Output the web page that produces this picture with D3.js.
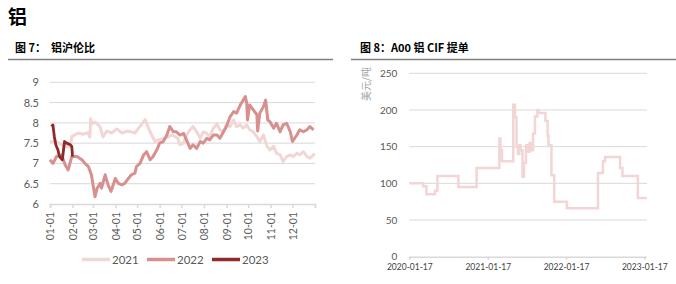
<!DOCTYPE html>
<html>
<head>
<meta charset="utf-8">
<script src="https://cdn.jsdelivr.net/npm/d3@7"></script>
<style>
  body { margin: 0; background: #fff; }
  svg { display: block; font-family: "Noto Sans CJK SC", "Noto Sans", sans-serif; }
</style>
</head>
<body>
<div id="chart"></div>
<script>
// left chart: 铝沪伦比, by day of year
var dates2021 = ["01-01","01-04","01-08","01-22","01-29","01-31","02-09","02-16","02-22","02-25","02-26","02-28","03-04","03-08","03-11","03-15","03-20","03-27","04-03","04-10","04-18","04-28","05-08","05-12","05-16","05-21","05-26","05-30","06-08","06-18","06-26","06-29","07-04","07-08","07-13","07-17","07-22","07-27","07-31","08-05","08-09","08-14","08-19","08-23","08-28","09-01","09-06","09-11","09-15","09-20","09-24","09-29","10-03","10-08","10-13","10-17","10-22","10-27","10-31","11-05","11-09","11-14","11-18","11-23","11-28","12-02","12-07","12-11","12-16","12-21","12-25","12-30","12-31"];
var vals2021 = [7.54,7.53,7.55,7.41,7.42,7.66,7.75,7.72,7.76,7.65,8.1,7.98,8.02,7.96,7.9,7.65,7.8,7.75,7.85,7.75,7.8,7.75,7.98,8.08,7.9,7.7,7.53,7.58,7.62,7.7,7.62,7.46,7.5,7.7,7.83,7.91,7.78,7.62,7.78,7.74,7.66,7.87,7.97,7.83,7.78,7.95,7.91,8.07,7.91,7.95,7.87,7.95,7.83,7.78,7.66,7.54,7.7,7.42,7.33,7.42,7.25,7.21,7.05,7.17,7.21,7.17,7.25,7.21,7.29,7.17,7.13,7.21,7.25];

var dates2022 = ["01-01","01-05","01-10","01-17","01-22","01-26","01-31","02-07","02-14","02-18","02-23","02-27","03-04","03-07","03-11","03-13","03-18","03-22","03-26","04-01","04-05","04-10","04-14","04-19","04-23","04-28","04-30","05-05","05-10","05-14","05-19","05-23","05-28","06-01","06-06","06-11","06-15","06-20","06-24","06-29","07-04","07-08","07-13","07-17","07-22","07-27","07-31","08-05","08-09","08-14","08-19","08-23","08-28","09-01","09-06","09-11","09-15","09-20","09-24","09-27","09-29","09-30","10-03","10-08","10-13","10-14","10-17","10-22","10-25","10-28","10-31","11-05","11-09","11-14","11-18","11-23","11-28","12-01","12-07","12-11","12-16","12-21","12-25","12-30"];
var vals2022 = [7.09,7.0,7.17,7.21,6.96,6.84,7.17,7.17,7.09,7.0,6.92,6.72,6.18,6.39,6.51,6.39,6.72,6.47,6.31,6.63,6.51,6.47,6.51,6.63,6.72,6.76,6.92,7.0,7.21,7.29,7.09,7.17,7.33,7.5,7.54,7.7,7.91,7.78,7.78,7.7,7.74,7.58,7.37,7.46,7.37,7.54,7.5,7.62,7.58,7.7,7.7,7.62,7.78,7.91,8.15,8.28,8.24,8.44,8.56,8.65,8.48,8.07,8.44,8.32,8.2,7.8,8.24,8.4,8.56,8.07,8.03,7.87,7.99,7.78,7.95,7.99,7.78,7.54,7.7,7.83,7.78,7.83,7.91,7.83];

var dates2023 = ["01-03","01-05","01-07","01-09","01-12","01-14","01-16","01-18","01-21","01-24","01-29","01-31","02-01"];
var vals2023 = [7.91,7.95,7.66,7.46,7.33,7.17,7.13,7.09,7.54,7.5,7.46,7.42,7.17];

var yearNames = ["2021", "2022", "2023"];
var ratioTicks = [6, 6.5, 7, 7.5, 8, 8.5, 9];

// right chart: A00 铝 CIF 提单 (美元/吨)
var cifDates = ["2020-01-17","2020-03-22","2020-04-06","2020-05-16","2020-05-27","2020-09-02","2020-11-26","2021-03-12","2021-03-17","2021-03-24","2021-05-16","2021-05-24","2021-05-31","2021-06-07","2021-06-13","2021-06-19","2021-06-28","2021-07-05","2021-07-14","2021-07-21","2021-07-31","2021-08-07","2021-08-16","2021-08-25","2021-09-05","2021-09-11","2021-10-13","2021-10-23","2021-10-27","2021-11-10","2021-11-23","2022-01-21","2022-06-15","2022-07-08","2022-07-18","2022-09-26","2022-10-07","2022-12-18","2023-01-29"];
var cifVals = [100,96,85,90,110,95,121,161,145,130,207,190,150,140,152,145,109,128,152,143,155,145,168,191,200,196,185,165,152,111,75,66,114,130,136,121,110,80,80];
var cifTicks = [0, 50, 100, 150, 200, 250];
var cifDateTicks = ["2020-01-17","2021-01-17","2022-01-17","2023-01-17"];

var colors = ["#f2d6d5", "#d8908e", "#8e2a2a"];
var gridColor = "#d9d9d9";
var textColor = "#595959";

var svg = d3.select("#chart").append("svg")
    .attr("width", 676)
    .attr("height", 284);

// headings
svg.append("text")
    .attr("x", 8).attr("y", 24)
    .attr("font-size", 19).attr("font-weight", "bold")
    .attr("fill", "#000")
    .text("铝");

function drawTitle(x, lineX1, lineX2, label) {
    svg.append("text")
        .attr("x", x).attr("y", 52)
        .attr("font-size", 11).attr("font-weight", "bold")
        .attr("fill", "#000")
        .attr("xml:space", "preserve")
        .text(label);
    svg.append("line")
        .attr("x1", lineX1).attr("x2", lineX2)
        .attr("y1", 59.5).attr("y2", 59.5)
        .attr("stroke", "#808080")
        .attr("stroke-width", 1.5);
}
drawTitle(15, 8, 333, "图 7：  铝沪伦比");
drawTitle(360, 351, 676, "图 8：A00 铝 CIF 提单");

function drawRatio() {
    var parse = d3.timeParse("%m-%d");
    var x = d3.scaleTime()
        .domain([parse("01-01"), new Date(1901, 0, 1)])
        .range([50, 315]);
    var y = d3.scaleLinear()
        .domain([6, 9])
        .range([204, 82.3]);

    var g = svg.append("g");

    g.append("g")
        .selectAll("line")
        .data(ratioTicks.slice(1))
        .enter()
        .append("line")
        .attr("x1", 50).attr("x2", 315)
        .attr("y1", d => y(d)).attr("y2", d => y(d))
        .attr("stroke", gridColor)
        .attr("stroke-width", 1);

    var yAxis = g.append("g")
        .attr("transform", "translate(50,0)")
        .call(d3.axisLeft(y).tickValues(ratioTicks).tickSize(0).tickPadding(11).tickFormat(d3.format("~g")));
    yAxis.select(".domain").remove();
    yAxis.selectAll("text")
        .attr("font-size", 11)
        .attr("fill", textColor)
        .attr("font-family", "Lato, 'Noto Sans', sans-serif");

    var xAxis = g.append("g")
        .attr("transform", "translate(0,204)")
        .call(d3.axisBottom(x).ticks(d3.timeMonth.every(1)).tickSize(4).tickFormat(d3.timeFormat("%m-%d")));
    xAxis.select(".domain").attr("stroke", gridColor).attr("stroke-width", 1.5);
    xAxis.selectAll(".tick line").attr("stroke", gridColor).attr("stroke-width", 1.5);
    xAxis.selectAll(".tick")
        .filter(d => d.getFullYear() > 1900)
        .select("text").remove();
    xAxis.selectAll("text")
        .attr("font-size", 10.5)
        .attr("fill", textColor)
        .attr("font-family", "Lato, 'Noto Sans', sans-serif")
        .attr("text-anchor", "end")
        .attr("transform", "rotate(-90)")
        .attr("x", -8)
        .attr("y", 0)
        .attr("dy", "0.35em");

    var line = d3.line()
        .x(d => x(parse(d[0])))
        .y(d => y(d[1]));

    var series = [
        d3.zip(dates2021, vals2021),
        d3.zip(dates2022, vals2022),
        d3.zip(dates2023, vals2023)
    ];
    series.forEach(function (s, i) {
        g.append("path")
            .datum(s)
            .attr("d", line)
            .attr("fill", "none")
            .attr("stroke", colors[i])
            .attr("stroke-width", i == 2 ? 2.8 : 3)
            .attr("stroke-linejoin", "round");
    });

    // legend
    var legend = g.append("g")
        .selectAll("g")
        .data(yearNames)
        .enter()
        .append("g")
        .attr("transform", (d, i) => "translate(" + (82 + i * 65) + ",259.5)");
    legend.append("line")
        .attr("x1", 0).attr("x2", 28)
        .attr("stroke", (d, i) => colors[i])
        .attr("stroke-width", 3.5);
    legend.append("text")
        .attr("x", 30).attr("y", 0)
        .attr("dy", "0.36em")
        .attr("font-size", 11.5)
        .attr("fill", textColor)
        .attr("font-family", "Lato, 'Noto Sans', sans-serif")
        .text(d => d);
}

function drawCif() {
    var parse = d3.timeParse("%Y-%m-%d");
    var x = d3.scaleTime()
        .domain([parse("2020-01-17"), parse("2023-01-17")])
        .range([409.3, 644.3]);
    var y = d3.scaleLinear()
        .domain([0, 250])
        .range([256.7, 73.3]);
    var xEnd = 647;

    var g = svg.append("g");

    g.append("g")
        .selectAll("line")
        .data(cifTicks.slice(1))
        .enter()
        .append("line")
        .attr("x1", 409.3).attr("x2", xEnd)
        .attr("y1", d => y(d)).attr("y2", d => y(d))
        .attr("stroke", gridColor)
        .attr("stroke-width", 1);

    var yAxis = g.append("g")
        .attr("transform", "translate(409.3,0)")
        .call(d3.axisLeft(y).tickValues(cifTicks).tickSize(0).tickPadding(12));
    yAxis.select(".domain").remove();
    yAxis.selectAll("text")
        .attr("font-size", 10)
        .attr("fill", textColor)
        .attr("font-family", "Lato, 'Noto Sans', sans-serif");

    var xAxis = g.append("g")
        .attr("transform", "translate(0,256.7)")
        .call(d3.axisBottom(x).tickValues(cifDateTicks.map(parse)).tickSize(3).tickPadding(4).tickFormat(d3.timeFormat("%Y-%m-%d")));
    xAxis.select(".domain")
        .attr("d", "M409.3,0.5H" + xEnd)
        .attr("stroke", gridColor).attr("stroke-width", 1.5);
    xAxis.selectAll(".tick line").attr("stroke", gridColor).attr("stroke-width", 1.5);
    xAxis.selectAll("text")
        .attr("font-size", 8.5)
        .attr("fill", "#404040")
        .attr("font-family", "Lato, 'Noto Sans', sans-serif");

    var line = d3.line()
        .curve(d3.curveStepAfter)
        .x(d => x(parse(d[0])))
        .y(d => y(d[1]));

    g.append("path")
        .datum(d3.zip(cifDates, cifVals))
        .attr("d", line)
        .attr("fill", "none")
        .attr("stroke", colors[0])
        .attr("stroke-width", 2.5);

    g.append("text")
        .attr("transform", "translate(370,84) rotate(-90)")
        .attr("text-anchor", "middle")
        .attr("font-size", 10)
        .attr("fill", "#a6a6a6")
        .text("美元/吨");
}

drawRatio();
drawCif();
</script>
</body>
</html>
